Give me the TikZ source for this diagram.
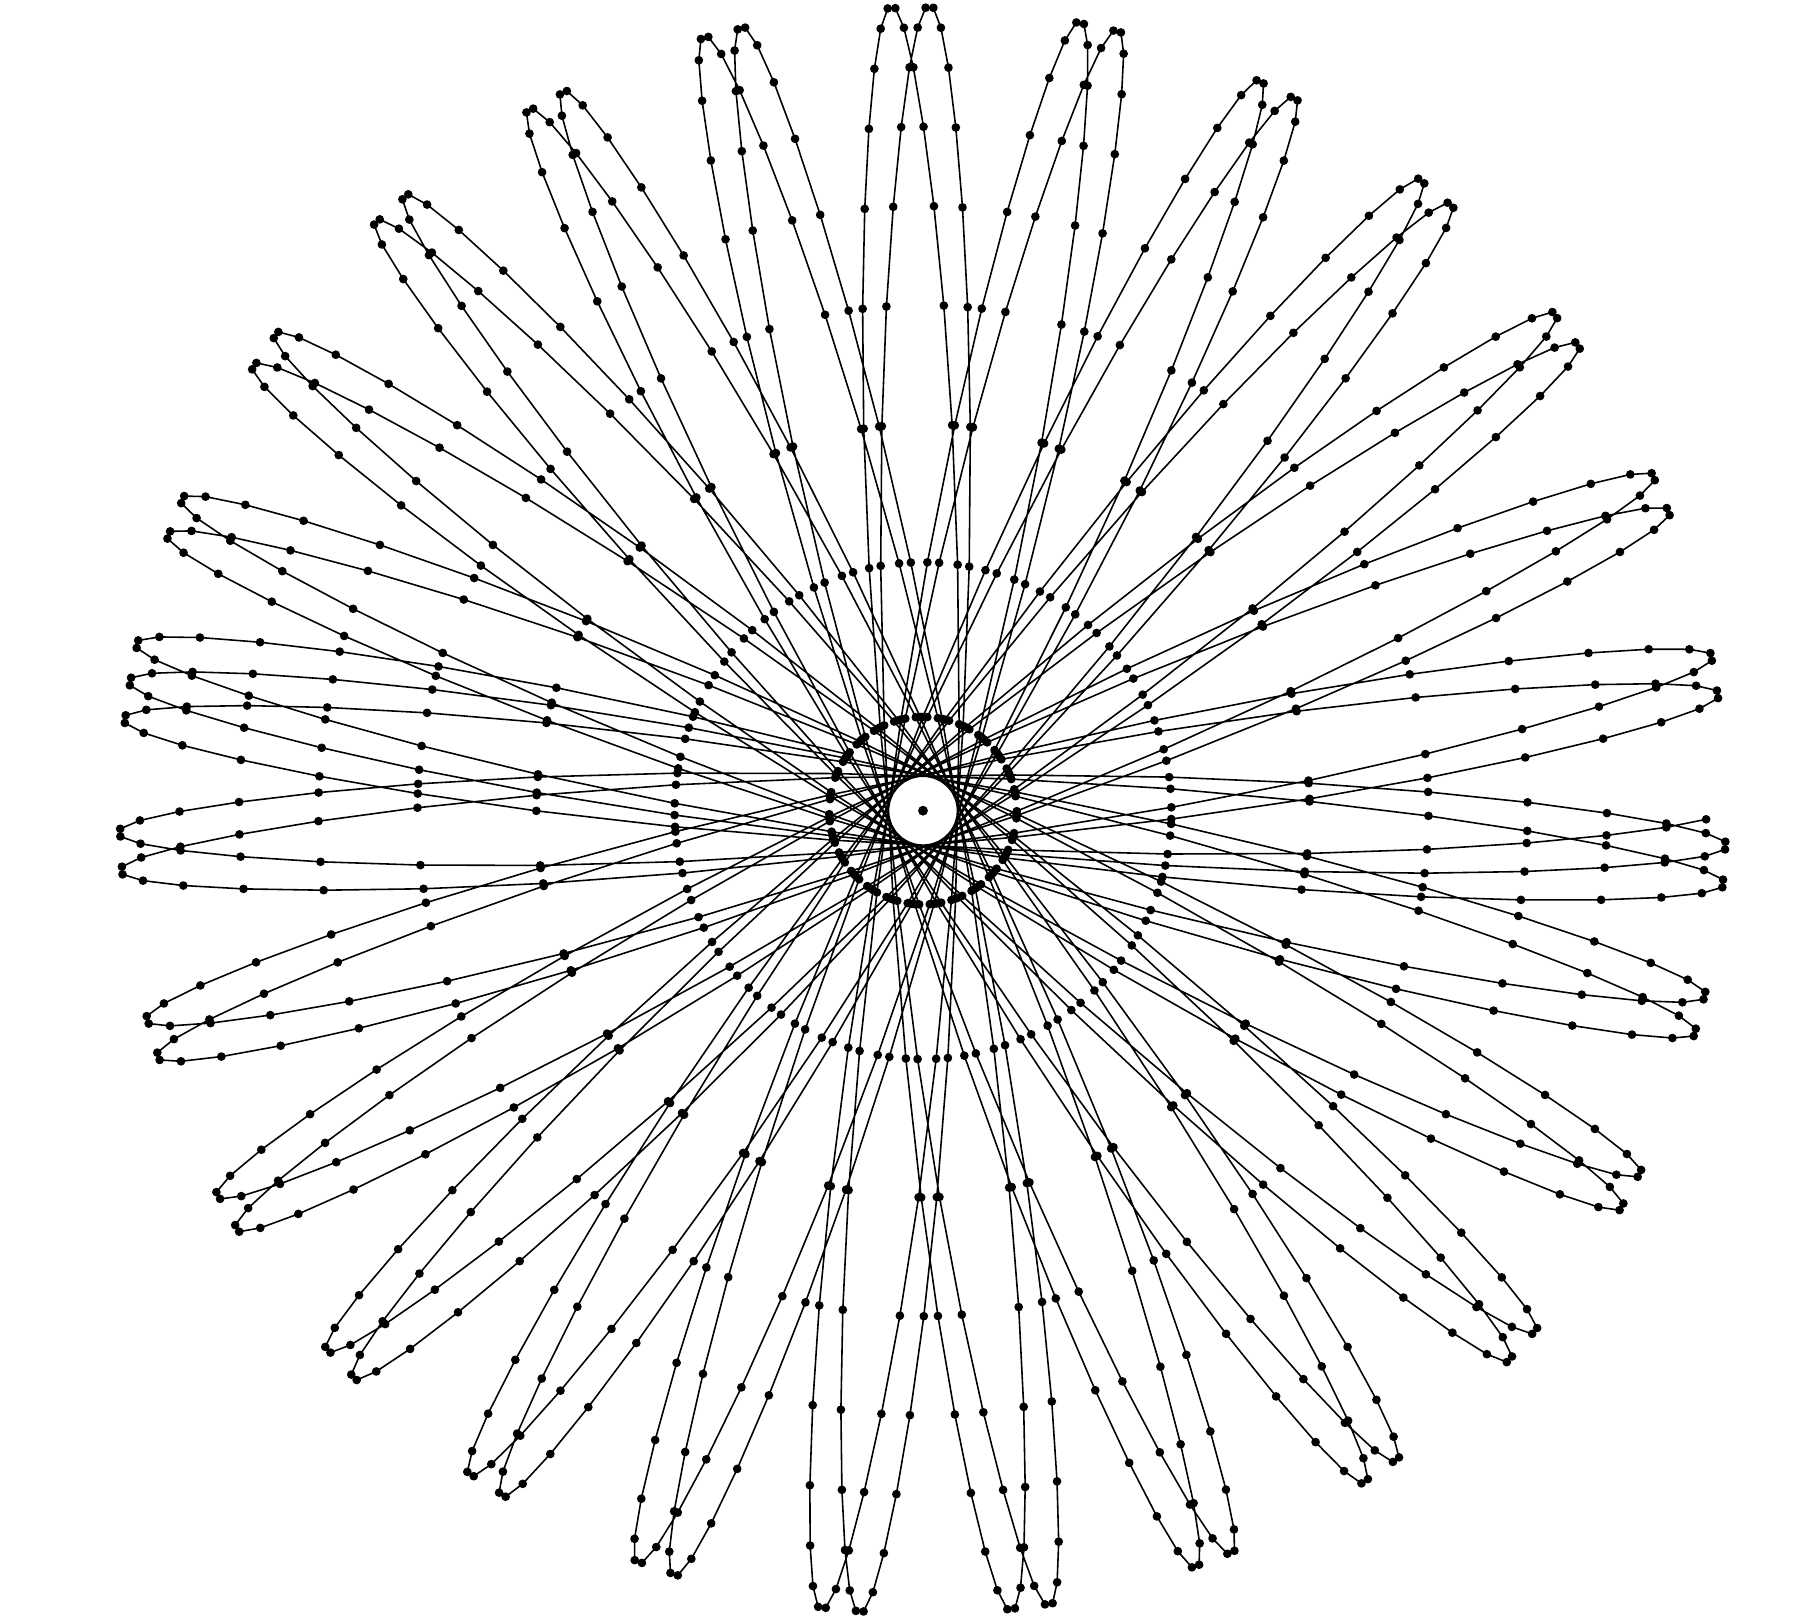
\documentclass[tikz,border=0pt]{standalone}
\begin{document}
\begin{tikzpicture}[x=0.01cm,y=0.01cm,
	declare function={
		tipk(\x)=floor((\x+9.5)/18);
		radf(\x)=(1-2*mod(tipk(\x),2))*(1-((\x+0.5-18*tipk(\x))/9)^2);
		latg(\x)=sin(10*mod(\x,36)+5);
		rotp(\x)=168.22+0.37594*\x-0.75376*sin(20*mod(\x,18)+10);
		xorb(\x)=805.5*radf(\x)*cos(rotp(\x))-35*latg(\x)*sin(rotp(\x));
		yorb(\x)=805.5*radf(\x)*sin(rotp(\x))+35*latg(\x)*cos(rotp(\x));
	},
	orbit/.style={black,line width=0.45pt,line join=round,mark=*,mark size=1pt}]
	\useasboundingbox (-923,-805.3) rectangle (889,810.7);
	% orbit
	\draw[orbit] plot[samples at={-9,...,988},variable=\i] ({xorb(\i)},{yorb(\i)});
	% centre
	\coordinate (c) at (0,0);
	\fill (c) circle (1.4pt);
\end{tikzpicture}
\end{document}
